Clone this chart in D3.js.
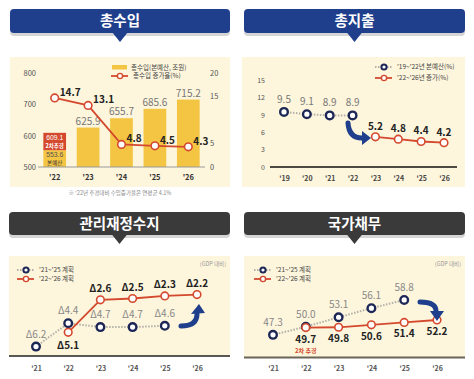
<!DOCTYPE html>
<html>
<head>
<meta charset="utf-8">
<script src="https://cdn.jsdelivr.net/npm/d3@7"></script>
<style>
  body { margin:0; background:#fff; }
  svg text { font-family:'Noto Sans CJK KR','Noto Sans',sans-serif; }
  svg text.num { font-family:'Liberation Sans',Arial,sans-serif; }
</style>
</head>
<body>
<div id="chartID"></div>
<script>
//총수입 data
var revYears = ["'22","'23","'24","'25","'26"];
var revBudget = [553.6, 625.9, 655.7, 685.6, 715.2];
var revSupp = [609.1, null, null, null, null];
var revGrowth = [14.7, 13.1, 4.8, 4.5, 4.3];
var revLeftTicks = [500, 600, 700, 800];
var revRightTicks = [0, 5, 15, 20];
//총지출 data
var expYears = ["'19","'20","'21","'22","'23","'24","'25","'26"];
var expOldYears = ["'19","'20","'21","'22"];
var expOld = [9.5, 9.1, 8.9, 8.9];
var expNewYears = ["'23","'24","'25","'26"];
var expNew = [5.2, 4.8, 4.4, 4.2];
var expTicks = [0, 3, 6, 9, 12, 15];
//관리재정수지 data (GDP 대비 적자, Δ)
var planYears = ["'21","'22","'23","'24","'25","'26"];
var oldPlanYears = ["'21","'22","'23","'24","'25"];
var newPlanYears = ["'22","'23","'24","'25","'26"];
var balOld = [6.2, 4.4, 4.7, 4.7, 4.6];
var balNew = [5.1, 2.6, 2.5, 2.3, 2.2];
//국가채무 data
var debtOld = [47.3, 50.0, 53.1, 56.1, 58.8];
var debtNew = [49.7, 49.8, 50.6, 51.4, 52.2];

//colors
var navy = "#1f3f8c", gray = "#3a3a3a", cream = "#fdf5dc", yellow = "#f4c543",
    red = "#d4492e", dotNavy = "#1d2756", dotGray = "#b3b0a8";

var svg = d3.select("#chartID").append("svg")
    .attr("width", 474).attr("height", 379);

//banner with shadow and pointer
function header(x0, x1, y0, y1, color, title) {
  var cx = (x0 + x1) / 2;
  svg.append("rect").attr("x", x0).attr("y", y0 + 3).attr("width", x1 - x0).attr("height", y1 - y0)
     .attr("rx", 4).attr("fill", "#d5d5d5");
  svg.append("rect").attr("x", x0).attr("y", y0).attr("width", x1 - x0).attr("height", y1 - y0)
     .attr("rx", 4).attr("fill", color);
  svg.append("path").attr("d", "M" + (cx - 8) + "," + (y1 - 1) + "L" + (cx + 8) + "," + (y1 - 1) + "L" + cx + "," + (y1 + 9) + "Z")
     .attr("fill", color);
  svg.append("text").attr("x", cx).attr("y", (y0 + y1) / 2 + 5).attr("text-anchor", "middle")
     .attr("fill", "#fff").attr("font-size", 14.5).attr("font-weight", 700).text(title);
}

//curved navy arrow: body path + triangle head
function arrow(body, head) {
  svg.append("path").attr("d", body).attr("fill", "none").attr("stroke", navy)
     .attr("stroke-width", 5).attr("stroke-linecap", "round");
  svg.append("path").attr("d", "M" + head.map(function(p){ return p.join(","); }).join("L") + "Z").attr("fill", navy);
}

//line with open circles
function series(g, xs, ys, keys, vals, color, dotted) {
  var pts = keys.map(function(k, i){ return [xs(k), ys(vals[i])]; });
  g.append("path").attr("d", d3.line()(pts)).attr("fill", "none")
   .attr("stroke", dotted ? dotGray : color).attr("stroke-width", dotted ? 2 : 1.8)
   .attr("stroke-dasharray", dotted ? "1.5,1.5" : null);
  g.selectAll(null).data(pts).enter().append("circle")
   .attr("cx", function(d){ return d[0]; }).attr("cy", function(d){ return d[1]; })
   .attr("r", 3.8).attr("fill", "#fff")
   .attr("stroke", color).attr("stroke-width", dotted ? 2.4 : 1.6);
}

function legendItem(g, x, y, color, dotted, label) {
  g.append("line").attr("x1", x).attr("x2", x + 17).attr("y1", y).attr("y2", y)
   .attr("stroke", dotted ? dotGray : color).attr("stroke-width", dotted ? 2 : 1.8)
   .attr("stroke-dasharray", dotted ? "1.5,1.5" : null);
  g.append("circle").attr("cx", x + 9).attr("cy", y).attr("r", 2.6).attr("fill", "#fff")
   .attr("stroke", color).attr("stroke-width", dotted ? 2 : 1.4);
  g.append("text").attr("x", x + 22).attr("y", y + 2.3).attr("font-size", 6.5).attr("fill", "#444").text(label);
}

function styleAxis(sel, size, color, weight) {
  sel.select(".domain").remove();
  sel.selectAll("text").attr("font-size", size).attr("fill", color).attr("font-weight", weight || 400)
     .style("font-family", "'Noto Sans CJK KR','Noto Sans',sans-serif");
}

// ---------------- 총수입 ----------------
header(10, 230, 9, 33, navy, "총수입");
svg.append("rect").attr("x", 10).attr("y", 57).attr("width", 220).attr("height", 130).attr("fill", cream);
var g1 = svg.append("g");
var x1 = d3.scaleBand().domain(revYears).range([38, 205]).paddingInner(0.32).paddingOuter(0.16);
var yL = d3.scaleLinear().domain([500, 800]).range([167, 73]);
var yR = d3.scaleLinear().domain([0, 20]).range([167, 73]);

g1.append("g").attr("transform", "translate(36,0)")
  .call(d3.axisLeft(yL).tickValues(revLeftTicks).tickSize(0).tickPadding(0))
  .call(styleAxis, 7.5, "#555");
g1.append("g").attr("transform", "translate(210,0)")
  .call(d3.axisRight(yR).tickValues(revRightTicks).tickSize(0).tickPadding(0))
  .call(styleAxis, 7.5, "#555");

//bars
g1.selectAll(".bar").data(revYears).enter().append("rect")
  .attr("x", function(d){ return x1(d); }).attr("width", x1.bandwidth())
  .attr("y", function(d, i){ return yL(revBudget[i]); })
  .attr("height", function(d, i){ return 167 - yL(revBudget[i]); })
  .attr("fill", yellow);
//2차추경 block
revYears.forEach(function(d, i) {
  if (revSupp[i] == null) return;
  var cx = x1(d) + x1.bandwidth() / 2;
  g1.append("rect").attr("x", x1(d)).attr("width", x1.bandwidth())
    .attr("y", yL(revSupp[i])).attr("height", yL(revBudget[i]) - yL(revSupp[i])).attr("fill", red);
  g1.append("text").attr("class", "num").attr("x", cx).attr("y", yL(revSupp[i]) + 7).attr("text-anchor", "middle")
    .attr("font-size", 6.8).attr("fill", "#fff").text(revSupp[i].toFixed(1));
  g1.append("text").attr("x", cx).attr("y", yL(revSupp[i]) + 15).attr("text-anchor", "middle")
    .attr("font-size", 5.5).attr("fill", "#fff").attr("font-weight", 700).text("2차추경");
  g1.append("text").attr("class", "num").attr("x", cx).attr("y", yL(revBudget[i]) + 7).attr("text-anchor", "middle")
    .attr("font-size", 6.8).attr("fill", "#555").text(revBudget[i].toFixed(1));
  g1.append("text").attr("x", cx).attr("y", yL(revBudget[i]) + 15).attr("text-anchor", "middle")
    .attr("font-size", 5.5).attr("fill", "#333").text("본예산");
});
//bar value labels
g1.selectAll(".blabel").data(revYears).enter().append("text")
  .filter(function(d, i){ return revSupp[i] == null; })
  .attr("x", function(d){ return x1(d) + x1.bandwidth() / 2; })
  .attr("y", function(d){ return yL(revBudget[revYears.indexOf(d)]) - 3; })
  .attr("text-anchor", "middle").attr("font-size", 10).attr("fill", "#777")
  .text(function(d){ return revBudget[revYears.indexOf(d)].toFixed(1); });

//x axis
g1.append("g").attr("transform", "translate(0,167)")
  .call(d3.axisBottom(x1).tickSize(0).tickPadding(8))
  .call(styleAxis, 7.5, "#333", 700);
g1.append("line").attr("x1", 38).attr("x2", 205).attr("y1", 167).attr("y2", 167).attr("stroke", "#999").attr("stroke-width", 1);

//growth line
var xc1 = function(d){ return x1(d) + x1.bandwidth() / 2; };
series(g1, xc1, yR, revYears, revGrowth, red, false);
g1.selectAll(".glabel").data(revGrowth).enter().append("text")
  .attr("x", function(d, i){ return xc1(revYears[i]) + 5; })
  .attr("y", function(d, i){ return yR(d) - 2; })
  .attr("font-size", 10).attr("font-weight", 700).attr("fill", "#222")
  .text(function(d){ return d.toFixed(1); });

//legend
g1.append("rect").attr("x", 112).attr("y", 65).attr("width", 15).attr("height", 4.5).attr("fill", yellow);
g1.append("text").attr("x", 131).attr("y", 69.5).attr("font-size", 6.5).attr("fill", "#444").text("총수입(본예산, 조원)");
legendItem(g1, 111, 76, red, false, "총수입 증가율(%)");
svg.append("text").attr("x", 120).attr("y", 195).attr("text-anchor", "middle").attr("font-size", 5.5)
  .attr("fill", "#888").text("※ '22년 추경대비 수입증가율은 연평균 4.1%");

// ---------------- 총지출 ----------------
header(244, 465, 9, 33, navy, "총지출");
svg.append("rect").attr("x", 242).attr("y", 57).attr("width", 223).attr("height", 130).attr("fill", cream);
var g2 = svg.append("g");
var x2 = d3.scalePoint().domain(expYears).range([284, 444]);
var y2 = d3.scaleLinear().domain([0, 15]).range([167, 80]);
g2.append("g").attr("transform", "translate(265,0)")
  .call(d3.axisLeft(y2).tickValues(expTicks).tickSize(0).tickPadding(0))
  .call(styleAxis, 7, "#555");
g2.append("line").attr("x1", 270).attr("x2", 457).attr("y1", 167).attr("y2", 167).attr("stroke", "#111").attr("stroke-width", 1.6);
g2.append("g").attr("transform", "translate(0,167)")
  .call(d3.axisBottom(x2).tickSize(0).tickPadding(9))
  .call(styleAxis, 7, "#444", 700);
series(g2, x2, y2, expOldYears, expOld, dotNavy, true);
series(g2, x2, y2, expNewYears, expNew, red, false);
g2.selectAll(".l1").data(expOld).enter().append("text")
  .attr("x", function(d, i){ return x2(expOldYears[i]); }).attr("y", function(d){ return y2(d) - 9; })
  .attr("text-anchor", "middle").attr("font-size", 10).attr("fill", "#777").text(function(d){ return d.toFixed(1); });
g2.selectAll(".l2").data(expNew).enter().append("text")
  .attr("x", function(d, i){ return x2(expNewYears[i]); }).attr("y", function(d){ return y2(d) - 7; })
  .attr("text-anchor", "middle").attr("font-size", 10).attr("font-weight", 700).attr("fill", "#222").text(function(d){ return d.toFixed(1); });
legendItem(g2, 375, 67, dotNavy, true, "'19~'22년 본예산(%)");
legendItem(g2, 375, 78, red, false, "'22~'26년 증가(%)");
arrow("M348,123 Q349,138 362,138", [[371,138],[362,131],[362,145]]);

// ---------------- 관리재정수지 ----------------
header(9, 230, 212, 235, gray, "관리재정수지");
svg.append("rect").attr("x", 9).attr("y", 256).attr("width", 221).attr("height", 100).attr("fill", cream);
var g3 = svg.append("g");
var x3 = d3.scalePoint().domain(planYears).range([36, 197]);
var y3 = d3.scaleLinear().domain([0, 7]).range([266, 357]);
g3.append("line").attr("x1", 9).attr("x2", 230).attr("y1", 356).attr("y2", 356).attr("stroke", "#222").attr("stroke-width", 1.5);
g3.append("g").attr("transform", "translate(0,356)")
  .call(d3.axisBottom(x3).tickSize(0).tickPadding(10))
  .call(styleAxis, 7, "#555", 700);
series(g3, x3, y3, oldPlanYears, balOld, dotNavy, true);
series(g3, x3, y3, newPlanYears, balNew, red, false);
g3.selectAll(".l1").data(balOld).enter().append("text")
  .attr("x", function(d, i){ return x3(oldPlanYears[i]); }).attr("y", function(d){ return y3(d) - 9; })
  .attr("text-anchor", "middle").attr("font-size", 10).attr("fill", "#888").text(function(d){ return "Δ" + d.toFixed(1); });
g3.selectAll(".l2").data(balNew).enter().append("text")
  .attr("x", function(d, i){ return x3(newPlanYears[i]); })
  .attr("y", function(d, i){ return i == 0 ? y3(d) + 17 : y3(d) - 8; })
  .attr("text-anchor", "middle").attr("font-size", 10).attr("font-weight", 700).attr("fill", "#222").text(function(d){ return "Δ" + d.toFixed(1); });
legendItem(g3, 17, 270, dotNavy, true, "'21~'25 계획");
legendItem(g3, 17, 279, red, false, "'22~'26 계획");
g3.append("text").attr("x", 226).attr("y", 266).attr("text-anchor", "end").attr("font-size", 5.5).attr("fill", "#999").text("(GDP 대비)");
arrow("M181,326 Q197,326 197,314", [[199,304],[191,314],[205,313]]);

// ---------------- 국가채무 ----------------
header(244, 465, 212, 235, gray, "국가채무");
svg.append("rect").attr("x", 244).attr("y", 256).attr("width", 221).attr("height", 101).attr("fill", cream);
var g4 = svg.append("g");
var x4 = d3.scalePoint().domain(planYears).range([273, 437]);
var y4 = d3.scaleLinear().domain([40, 70]).range([357, 266]);
g4.append("line").attr("x1", 244).attr("x2", 465).attr("y1", 357.5).attr("y2", 357.5).attr("stroke", "#6b6558").attr("stroke-width", 2);
g4.append("g").attr("transform", "translate(0,357)")
  .call(d3.axisBottom(x4).tickSize(0).tickPadding(9))
  .call(styleAxis, 7, "#555", 700);
series(g4, x4, y4, oldPlanYears, debtOld, dotNavy, true);
series(g4, x4, y4, newPlanYears, debtNew, red, false);
g4.selectAll(".l1").data(debtOld).enter().append("text")
  .attr("x", function(d, i){ return x4(oldPlanYears[i]); }).attr("y", function(d){ return y4(d) - 9; })
  .attr("text-anchor", "middle").attr("font-size", 10).attr("fill", "#888").text(function(d){ return d.toFixed(1); });
g4.selectAll(".l2").data(debtNew).enter().append("text")
  .attr("x", function(d, i){ return x4(newPlanYears[i]); }).attr("y", function(d){ return y4(d) + 15; })
  .attr("text-anchor", "middle").attr("font-size", 10).attr("font-weight", 700).attr("fill", "#222").text(function(d){ return d.toFixed(1); });
g4.append("text").attr("x", x4("'22")).attr("y", y4(debtNew[0]) + 25).attr("text-anchor", "middle")
  .attr("font-size", 6).attr("font-weight", 700).attr("fill", red).text("2차 추경");
legendItem(g4, 254, 270, dotNavy, true, "'21~'25 계획");
legendItem(g4, 254, 279, red, false, "'22~'26 계획");
g4.append("text").attr("x", 461).attr("y", 266).attr("text-anchor", "end").attr("font-size", 5.5).attr("fill", "#999").text("(GDP 대비)");
arrow("M420,302 Q436,302 436,311", [[437,321],[430,311],[444,311]]);
</script>
</body>
</html>
